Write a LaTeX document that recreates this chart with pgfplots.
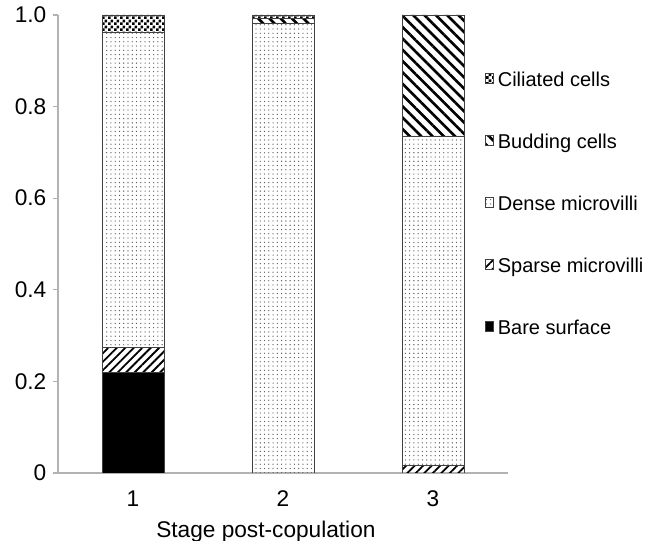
\documentclass[border=0pt]{standalone}
\usepackage{fontspec}
\setmainfont{Liberation Sans}
\usepackage{pgfplots}
\pgfplotsset{compat=1.18}
\usetikzlibrary{patterns,patterns.meta}

\tikzdeclarepattern{
  name=smallchecker,
  type=uncolored,
  bounding box={(0pt,0pt) and (4.5pt,4.5pt)},
  tile size={(4.5pt,4.5pt)},
  code={
    \fill (0pt,0pt) rectangle (2.25pt,2.25pt);
    \fill (2.25pt,2.25pt) rectangle (4.5pt,4.5pt);
  }
}

\tikzset{
  boxleg/.style={legend image code/.code={\draw[##1] (0pt,-4.5pt) rectangle (9pt,4.5pt);}},
}

\begin{document}
\begin{tikzpicture}
\useasboundingbox (-43.5pt,-51pt) rectangle (443.25pt,354.75pt);
\begin{axis}[
    scale only axis,
    width=337.5pt, height=343.5pt,
    ybar stacked,
    bar width=46.5pt,
    xmin=0.5, xmax=3.5,
    ymin=0, ymax=1,
    axis x line=bottom, axis y line=left,
    axis line style={-, draw=black!30, line width=0.9pt},
    tick style={draw=black!30, line width=0.9pt},
    tick align=outside,
    major tick length=3.75pt,
    xtick={1,2,3}, xticklabels={1,2,3},
    x tick style={draw=none},
    extra x ticks={0.5,1.5,2.5,3.5},
    extra x tick labels={},
    extra x tick style={tick style={draw=black!30, line width=0.9pt}, major tick length=5pt},
    ytick={0,0.2,0.4,0.6,0.8,1}, yticklabels={0,0.2,0.4,0.6,0.8,1.0},
    ticklabel style={font=\fontsize{17}{20}\selectfont},
    xticklabel style={yshift=-6pt},
    yticklabel style={xshift=-1.5pt},
    xlabel={Stage post-copulation},
    xlabel style={font=\fontsize{17}{20}\selectfont, at={(rel axis cs:0.462,0)}, anchor=base, yshift=-48.75pt},
    reverse legend,
    legend style={
        at={(rel axis cs:0.949,0.585)}, anchor=west,
        draw=none, fill=none, inner sep=0pt,
        font=\fontsize{15}{18}\selectfont,
        nodes={inner sep=0pt, anchor=west, text height=11pt, text depth=3pt},
        row sep=32.5pt, column sep=3pt,
    },
]
\addplot[boxleg, fill=black, draw=black!75] coordinates {(1,0.22) (2,0) (3,0)};
\addlegendentry{Bare surface}
\addplot[boxleg, draw=black!75, pattern={Lines[angle=45, distance=4.5pt, line width=1.4pt]}] coordinates {(1,0.055) (2,0) (3,0.017)};
\addlegendentry{Sparse microvilli}
\addplot[boxleg, draw=black!75, pattern={Dots[radius=0.5pt, distance=3.2pt]}, pattern color=black!65] coordinates {(1,0.688) (2,0.983) (3,0.719)};
\addlegendentry{Dense microvilli}
\addplot[boxleg, draw=black!75, pattern={Lines[angle=-45, distance=6pt, line width=2pt]}] coordinates {(1,0) (2,0.01) (3,0.264)};
\addlegendentry{Budding cells}
\addplot[boxleg, draw=black!75, pattern=smallchecker] coordinates {(1,0.037) (2,0.007) (3,0)};
\addlegendentry{Ciliated cells}
\end{axis}
\end{tikzpicture}
\end{document}
